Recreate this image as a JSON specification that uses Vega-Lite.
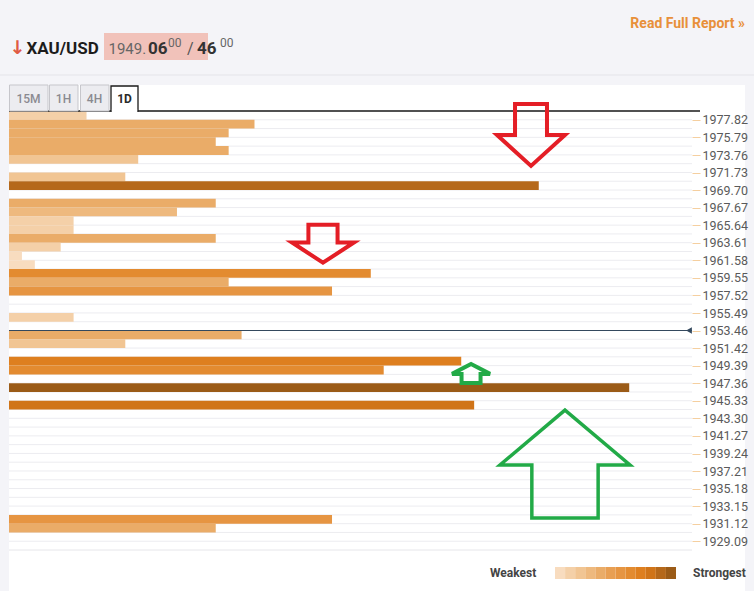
{
  "$schema": "https://vega.github.io/schema/vega-lite/v6.json",
  "width": 683,
  "height": 439,
  "autosize": {"type": "none"},
  "padding": {"left": 9, "top": 111, "right": 62, "bottom": 41},
  "background": "#f4f4f8",
  "config": {"view": {"stroke": null}, "font": "Roboto"},
  "resolve": {"axis": {"y": "independent", "x": "independent"}},
  "datasets": {
    "levels": [
      {"level": "1977.82", "strength": 6},
      {"level": "1976.81", "strength": 19},
      {"level": "1975.79", "strength": 17},
      {"level": "1974.78", "strength": 16},
      {"level": "1973.76", "strength": 17},
      {"level": "1972.75", "strength": 10},
      {"level": "1971.73", "strength": 0},
      {"level": "1970.72", "strength": 9},
      {"level": "1969.70", "strength": 41},
      {"level": "1968.69", "strength": 0},
      {"level": "1967.67", "strength": 16},
      {"level": "1966.66", "strength": 13},
      {"level": "1965.64", "strength": 5},
      {"level": "1964.63", "strength": 5},
      {"level": "1963.61", "strength": 16},
      {"level": "1962.60", "strength": 4},
      {"level": "1961.58", "strength": 1},
      {"level": "1960.57", "strength": 2},
      {"level": "1959.55", "strength": 28},
      {"level": "1958.54", "strength": 17},
      {"level": "1957.52", "strength": 25},
      {"level": "1956.51", "strength": 0},
      {"level": "1955.49", "strength": 0},
      {"level": "1954.48", "strength": 5},
      {"level": "1953.46", "strength": 0},
      {"level": "1952.44", "strength": 18},
      {"level": "1951.42", "strength": 9},
      {"level": "1950.41", "strength": 0},
      {"level": "1949.39", "strength": 35},
      {"level": "1948.38", "strength": 29},
      {"level": "1947.36", "strength": 0},
      {"level": "1946.35", "strength": 48},
      {"level": "1945.33", "strength": 0},
      {"level": "1944.32", "strength": 36},
      {"level": "1943.30", "strength": 0},
      {"level": "1942.29", "strength": 0},
      {"level": "1941.27", "strength": 0},
      {"level": "1940.26", "strength": 0},
      {"level": "1939.24", "strength": 0},
      {"level": "1938.23", "strength": 0},
      {"level": "1937.21", "strength": 0},
      {"level": "1936.20", "strength": 0},
      {"level": "1935.18", "strength": 0},
      {"level": "1934.17", "strength": 0},
      {"level": "1933.15", "strength": 0},
      {"level": "1932.14", "strength": 0},
      {"level": "1931.12", "strength": 25},
      {"level": "1930.11", "strength": 16},
      {"level": "1929.09", "strength": 0},
      {"level": "1928.08", "strength": 0}
    ],
    "current": [{"level": "1953.46", "price": 1949.06}],
    "arrows": [
      {"id": "r1", "level": "1975.79", "at": 40.4},
      {"id": "r2", "level": "1962.60", "at": 24.3},
      {"id": "g1", "level": "1948.38", "at": 35.76},
      {"id": "g2", "level": "1937.21", "at": 43.03}
    ]
  },
  "layer": [
    {
      "data": {"values": [{}]},
      "mark": {"type": "rect", "fill": "#ffffff"},
      "encoding": {"x": {"value": 0}, "x2": {"value": 736}, "y": {"value": -26}, "y2": {"value": 480}}
    },
    {
      "data": {"values": [{}]},
      "mark": {"type": "rule", "color": "#e4e4e9", "strokeWidth": 1},
      "encoding": {"x": {"value": -9}, "x2": {"value": 745}, "y": {"value": -36}}
    },
    {
      "data": {"name": "levels"},
      "mark": {"type": "rule", "color": "#ececf0", "strokeWidth": 1},
      "encoding": {
        "y": {
          "field": "level", "type": "ordinal", "sort": "descending", "bandPosition": 0,
          "scale": {"paddingInner": 0, "paddingOuter": 0},
          "axis": {
            "orient": "right", "title": null, "domain": false, "grid": false, "zindex": 1,
            "values": ["1977.82","1975.79","1973.76","1971.73","1969.70","1967.67","1965.64","1963.61","1961.58","1959.55","1957.52","1955.49","1953.46","1951.42","1949.39","1947.36","1945.33","1943.30","1941.27","1939.24","1937.21","1935.18","1933.15","1931.12","1929.09"],
            "tickColor": "#f5cf9f", "tickSize": 8, "tickWidth": 1, "tickOffset": 4.5,
            "labelFont": "Roboto", "labelFontSize": 12.5, "labelColor": "#5a5a5a", "labelPadding": 2,
            "labelOffset": 0, "bandPosition": 0.5
          }
        }
      }
    },
    {
      "data": {"name": "levels"},
      "transform": [{"filter": "datum.level == '1928.08'"}],
      "mark": {"type": "rule", "color": "#e6e6ea", "strokeWidth": 1},
      "encoding": {"y": {"field": "level", "type": "ordinal", "sort": "descending", "bandPosition": 1, "axis": null}}
    },
    {
      "data": {"name": "levels"},
      "transform": [{"filter": "datum.strength > 0"}],
      "mark": {"type": "bar"},
      "encoding": {
        "y": {"field": "level", "type": "ordinal", "sort": "descending", "axis": null},
        "x": {"field": "strength", "type": "quantitative", "scale": {"domain": [0, 52.86], "nice": false}, "axis": null},
        "color": {
          "field": "strength", "type": "quantitative",
          "scale": {"type": "quantize", "domain": [0, 48], "range": ["#f8dcbf","#f4d0a8","#f1c593","#eeb97e","#eaac68","#e89f53","#e69542","#e38b30","#de7f1f","#d07418","#b5681a","#9b5b17"]},
          "legend": {
            "orient": "none", "legendX": 481, "legendY": 456, "direction": "horizontal", "type": "gradient",
            "title": "Weakest", "titleOrient": "left", "titleFont": "Roboto", "titleFontSize": 12, "titleFontWeight": "bold",
            "titleColor": "#444444", "titlePadding": 18, "gradientLength": 121, "gradientThickness": 12,
            "gradientStrokeWidth": 0, "labelExpr": "''", "padding": 0
          }
        }
      }
    },
    {
      "data": {"name": "current"},
      "mark": {"type": "rule", "color": "#34495e", "strokeWidth": 1.2},
      "encoding": {"y": {"field": "level", "type": "ordinal", "sort": "descending", "bandPosition": 1, "axis": null}}
    },
    {
      "data": {"name": "current"},
      "mark": {"type": "point", "shape": "triangle-left", "filled": true, "color": "#34495e", "size": 45, "opacity": 1, "xOffset": -3},
      "encoding": {
        "y": {"field": "level", "type": "ordinal", "sort": "descending", "bandPosition": 1, "axis": null},
        "x": {"value": "width"}
      }
    },
    {
      "data": {"values": [{}]},
      "mark": {"type": "rule", "color": "#1a1a1a", "strokeWidth": 1.3},
      "encoding": {"x": {"value": 0}, "x2": {"value": 691}, "y": {"value": 0}}
    },
    {
      "data": {"values": [{}]},
      "mark": {"type": "rect", "fill": "#ececf0", "stroke": "#c6c6cb", "strokeWidth": 1},
      "encoding": {"x": {"value": 0.5}, "x2": {"value": 39}, "y": {"value": -26}, "y2": {"value": 0}}
    },
    {
      "data": {"values": [{}]},
      "mark": {"type": "rect", "fill": "#ececf0", "stroke": "#c6c6cb", "strokeWidth": 1},
      "encoding": {"x": {"value": 40.5}, "x2": {"value": 69}, "y": {"value": -26}, "y2": {"value": 0}}
    },
    {
      "data": {"values": [{}]},
      "mark": {"type": "rect", "fill": "#ececf0", "stroke": "#c6c6cb", "strokeWidth": 1},
      "encoding": {"x": {"value": 71.5}, "x2": {"value": 100}, "y": {"value": -26}, "y2": {"value": 0}}
    },
    {
      "data": {"values": [{}]},
      "mark": {"type": "rect", "fill": "#ffffff", "stroke": "#1a1a1a", "strokeWidth": 1.3},
      "encoding": {"x": {"value": 102}, "x2": {"value": 129}, "y": {"value": -25}, "y2": {"value": 0}}
    },
    {
      "data": {"values": [{}]},
      "mark": {"type": "rule", "color": "#ffffff", "strokeWidth": 2.5},
      "encoding": {"x": {"value": 102.7}, "x2": {"value": 128.3}, "y": {"value": 0}}
    },
    {
      "data": {"values": [{}]},
      "mark": {"type": "text", "text": "15M", "font": "Roboto", "fontSize": 12, "fontWeight": 500, "color": "#8a8a90", "align": "center", "baseline": "middle"},
      "encoding": {"x": {"value": 19.5}, "y": {"value": -12.5}}
    },
    {
      "data": {"values": [{}]},
      "mark": {"type": "text", "text": "1H", "font": "Roboto", "fontSize": 12, "fontWeight": 500, "color": "#8a8a90", "align": "center", "baseline": "middle"},
      "encoding": {"x": {"value": 54.5}, "y": {"value": -12.5}}
    },
    {
      "data": {"values": [{}]},
      "mark": {"type": "text", "text": "4H", "font": "Roboto", "fontSize": 12, "fontWeight": 500, "color": "#8a8a90", "align": "center", "baseline": "middle"},
      "encoding": {"x": {"value": 85.5}, "y": {"value": -12.5}}
    },
    {
      "data": {"values": [{}]},
      "mark": {"type": "text", "text": "1D", "font": "Roboto", "fontSize": 12, "fontWeight": "bold", "color": "#2a2a2a", "align": "center", "baseline": "middle"},
      "encoding": {"x": {"value": 115.5}, "y": {"value": -12.5}}
    },
    {
      "data": {"name": "arrows"},
      "transform": [{"filter": "datum.id == 'r1'"}],
      "mark": {"type": "point", "filled": false, "stroke": "#e41e26", "strokeWidth": 4, "strokeJoin": "miter", "opacity": 1, "yOffset": 2, "size": 4624,
        "shape": "M-0.47,-0.91L0.47,-0.91L0.47,0L1,0L0,0.91L-1,0L-0.47,0Z"},
      "encoding": {
        "x": {"field": "at", "type": "quantitative", "scale": {"domain": [0, 52.86], "nice": false}, "axis": null},
        "y": {"field": "level", "type": "ordinal", "sort": "descending", "axis": null}
      }
    },
    {
      "data": {"name": "arrows"},
      "transform": [{"filter": "datum.id == 'r2'"}],
      "mark": {"type": "point", "filled": false, "stroke": "#e41e26", "strokeWidth": 4, "strokeJoin": "miter", "opacity": 1, "yOffset": -3, "size": 3844,
        "shape": "M-0.47,-0.62L0.47,-0.62L0.47,-0.05L1,-0.05L0,0.6L-1,-0.05L-0.47,-0.05Z"},
      "encoding": {
        "x": {"field": "at", "type": "quantitative", "scale": {"domain": [0, 52.86], "nice": false}, "axis": null},
        "y": {"field": "level", "type": "ordinal", "sort": "descending", "axis": null}
      }
    },
    {
      "data": {"name": "arrows"},
      "transform": [{"filter": "datum.id == 'g1'"}],
      "mark": {"type": "point", "filled": false, "stroke": "#22aa47", "strokeWidth": 4, "strokeJoin": "miter", "opacity": 1, "yOffset": 3.5, "size": 1444,
        "shape": "M0,-0.5L1,0.02L0.5,0.02L0.5,0.5L-0.5,0.5L-0.5,0.02L-1,0.02Z"},
      "encoding": {
        "x": {"field": "at", "type": "quantitative", "scale": {"domain": [0, 52.86], "nice": false}, "axis": null},
        "y": {"field": "level", "type": "ordinal", "sort": "descending", "axis": null}
      }
    },
    {
      "data": {"name": "arrows"},
      "transform": [{"filter": "datum.id == 'g2'"}],
      "mark": {"type": "point", "filled": false, "stroke": "#22aa47", "strokeWidth": 3.5, "strokeJoin": "miter", "opacity": 1, "yOffset": -2.6, "size": 16900,
        "shape": "M0,-0.83L1,0.015L0.51,0.015L0.51,0.83L-0.51,0.83L-0.51,0.015L-1,0.015Z"},
      "encoding": {
        "x": {"field": "at", "type": "quantitative", "scale": {"domain": [0, 52.86], "nice": false}, "axis": null},
        "y": {"field": "level", "type": "ordinal", "sort": "descending", "axis": null}
      }
    },
    {
      "data": {"values": [{}]},
      "mark": {"type": "rect", "fill": "#f1c2ba"},
      "encoding": {"x": {"value": 95}, "x2": {"value": 199}, "y": {"value": -78}, "y2": {"value": -51}}
    },
    {
      "data": {"values": [{}]},
      "mark": {"type": "text", "text": "↓", "font": "DejaVu Sans", "fontSize": 19, "fontWeight": "bold", "color": "#e05a44", "align": "center", "baseline": "alphabetic"},
      "encoding": {"x": {"value": 8.5}, "y": {"value": -57}}
    },
    {
      "data": {"values": [{}]},
      "mark": {"type": "text", "text": "XAU/USD", "font": "Roboto", "fontSize": 17, "fontWeight": "bold", "color": "#1c1c1c", "align": "left", "baseline": "alphabetic"},
      "encoding": {"x": {"value": 17.5}, "y": {"value": -57}}
    },
    {
      "data": {"values": [{}]},
      "mark": {"type": "text", "text": "1949.", "font": "Roboto", "fontSize": 15, "color": "#666666", "align": "left", "baseline": "alphabetic"},
      "encoding": {"x": {"value": 99.5}, "y": {"value": -57}}
    },
    {
      "data": {"values": [{}]},
      "mark": {"type": "text", "text": "06", "font": "Roboto", "fontSize": 17, "fontWeight": "bold", "color": "#333333", "align": "left", "baseline": "alphabetic"},
      "encoding": {"x": {"value": 139}, "y": {"value": -57}}
    },
    {
      "data": {"values": [{}]},
      "mark": {"type": "text", "text": "00", "font": "Roboto", "fontSize": 12, "color": "#666666", "align": "left", "baseline": "alphabetic"},
      "encoding": {"x": {"value": 159}, "y": {"value": -64}}
    },
    {
      "data": {"values": [{}]},
      "mark": {"type": "text", "text": "/", "font": "Roboto", "fontSize": 16, "color": "#555555", "align": "left", "baseline": "alphabetic"},
      "encoding": {"x": {"value": 178}, "y": {"value": -57}}
    },
    {
      "data": {"values": [{}]},
      "mark": {"type": "text", "text": "46", "font": "Roboto", "fontSize": 17, "fontWeight": "bold", "color": "#333333", "align": "left", "baseline": "alphabetic"},
      "encoding": {"x": {"value": 188}, "y": {"value": -57}}
    },
    {
      "data": {"values": [{}]},
      "mark": {"type": "text", "text": "00", "font": "Roboto", "fontSize": 12, "color": "#666666", "align": "left", "baseline": "alphabetic"},
      "encoding": {"x": {"value": 211}, "y": {"value": -64}}
    },
    {
      "data": {"values": [{}]},
      "mark": {"type": "text", "text": "Read Full Report »", "font": "Roboto", "fontSize": 14, "fontWeight": "bold", "color": "#e8903a", "align": "right", "baseline": "alphabetic"},
      "encoding": {"x": {"value": 736}, "y": {"value": -83}}
    },
    {
      "data": {"values": [{}]},
      "mark": {"type": "text", "text": "Strongest", "font": "Roboto", "fontSize": 12, "fontWeight": "bold", "color": "#444444", "align": "left", "baseline": "middle"},
      "encoding": {"x": {"value": 684}, "y": {"value": 462}}
    }
  ]
}
